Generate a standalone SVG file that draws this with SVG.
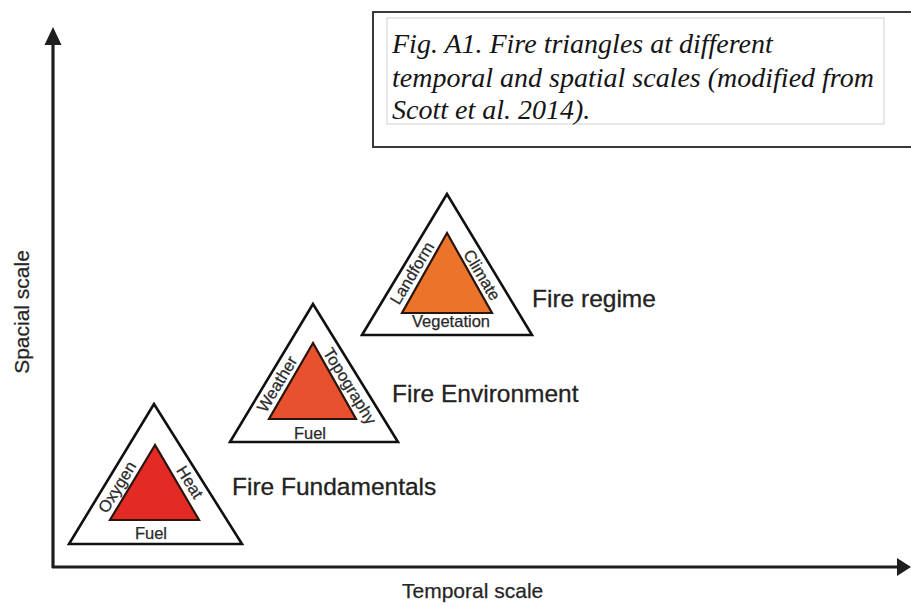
<svg xmlns="http://www.w3.org/2000/svg" width="911" height="606" viewBox="0 0 911 606">
  <style>
    .outer { fill: #ffffff; stroke: #111111; stroke-width: 2.6; stroke-linejoin: miter; }
    .inner { stroke: #2a140c; stroke-width: 2.2; stroke-linejoin: miter; }
    .side { font-family: "Liberation Sans", Arial, sans-serif; font-size: 16.5px; fill: #2a2a2a; stroke: #2a2a2a; stroke-width: 0.25; text-anchor: middle; }
    .name { font-family: "Liberation Sans", Arial, sans-serif; font-size: 24.5px; fill: #222222; stroke: #222222; stroke-width: 0.3; }
    .axis-label { font-family: "Liberation Sans", Arial, sans-serif; font-size: 21px; fill: #262626; stroke: #262626; stroke-width: 0.25; }
    .axis { stroke: #1e1e1e; stroke-width: 3.2; fill: none; }
    .head { fill: #1e1e1e; }
    .caption { font-family: "Liberation Serif", "Times New Roman", serif; font-style: italic; font-size: 28px; fill: #151515; }
  </style>

  <rect x="0" y="0" width="911" height="606" fill="#ffffff"/>

  <!-- axes -->
  <g id="connectors">
    <line class="axis" x1="53" y1="568" x2="53" y2="42"/>
    <polygon class="head" points="53,27 44.5,45 61.5,45"/>
    <line class="axis" x1="52" y1="567" x2="899" y2="567"/>
    <polygon class="head" points="911,567 897,558 897,576"/>
  </g>

  <text class="axis-label" x="402" y="598">Temporal scale</text>
  <text class="axis-label" x="29" y="312" text-anchor="middle" transform="rotate(-90 29 312)">Spacial scale</text>

  <!-- caption box -->
  <g id="caption">
    <rect x="373" y="12" width="545" height="135" fill="#ffffff" stroke="#3a3a3a" stroke-width="2"/>
    <rect x="387" y="18" width="497" height="106" fill="none" stroke="#cfcfcf" stroke-width="1"/>
    <text class="caption" x="392" y="53">Fig. A1. Fire triangles at different</text>
    <text class="caption" x="392" y="87">temporal and spatial scales (modified from</text>
    <text class="caption" x="392" y="119">Scott et al. 2014).</text>
  </g>

  <!-- fire fundamentals -->
  <g id="fire-fundamentals">
    <polygon class="outer" points="154,404 69,544 242,544"/>
    <polygon class="inner" fill="#e42a25" points="155,445 110,520 199,520"/>
    <text class="side" transform="translate(117 487) rotate(-58.6)" dy="0.35em">Oxygen</text>
    <text class="side" transform="translate(190 482) rotate(58)" dy="0.35em">Heat</text>
    <text class="side" x="151" y="539">Fuel</text>
    <text class="name" x="232" y="495">Fire Fundamentals</text>
  </g>

  <!-- fire environment -->
  <g id="fire-environment">
    <polygon class="outer" points="313,304 230,442 398,442"/>
    <polygon class="inner" fill="#e8512e" points="313,343 269,419 356,419"/>
    <text class="side" transform="translate(277 384) rotate(-59)" dy="0.35em">Weather</text>
    <text class="side" transform="translate(350 386) rotate(58.5)" dy="0.35em">Topography</text>
    <text class="side" x="310" y="439">Fuel</text>
    <text class="name" x="392" y="402">Fire Environment</text>
  </g>

  <!-- fire regime -->
  <g id="fire-regime">
    <polygon class="outer" points="447,194 362,335 532,335"/>
    <polygon class="inner" fill="#ec742a" points="447,233 402,313 492,313"/>
    <text class="side" transform="translate(412 273) rotate(-59)" dy="0.35em">Landform</text>
    <text class="side" transform="translate(482 275) rotate(59)" dy="0.35em">Climate</text>
    <text class="side" x="451" y="327">Vegetation</text>
    <text class="name" x="532" y="307">Fire regime</text>
  </g>
</svg>
